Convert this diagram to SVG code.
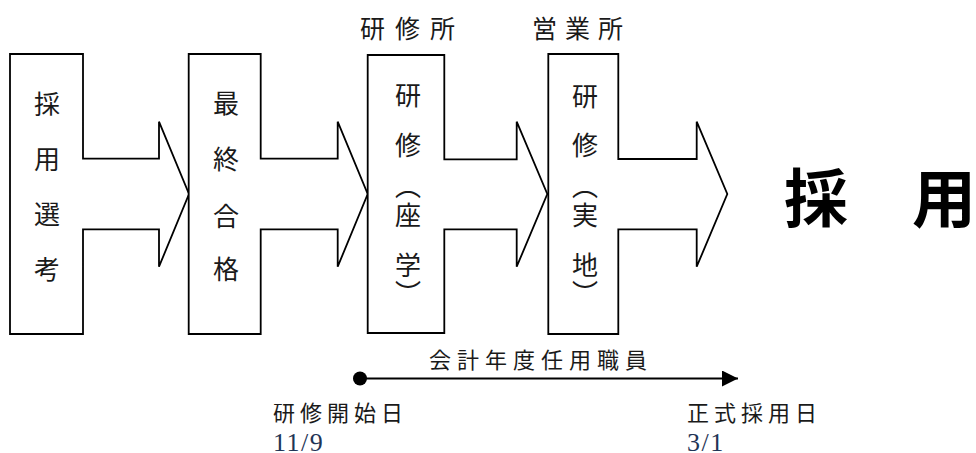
<svg xmlns="http://www.w3.org/2000/svg" width="976" height="453" viewBox="0 0 976 453">
<style>
.shape{fill:#fff;stroke:#000;stroke-width:1.8;stroke-linejoin:miter}
.v{font-family:"Noto Sans CJK JP","Noto Sans CJK SC",sans-serif;font-size:26px;fill:#1a1a1a;text-anchor:middle;dominant-baseline:central}
.lbl{font-family:"Noto Sans CJK JP","Noto Sans CJK SC",sans-serif;font-size:22px;fill:#1a1a1a;dominant-baseline:central}
.hdr{font-family:"Noto Sans CJK JP","Noto Sans CJK SC",sans-serif;font-size:25px;fill:#1a1a1a;dominant-baseline:central}
.num{font-family:"Liberation Serif",serif;font-size:26px;fill:#1f3556;letter-spacing:1.5px}
.big{font-family:"Noto Sans CJK JP","Noto Sans CJK SC",sans-serif;font-size:64px;font-weight:700;fill:#000;text-anchor:middle;dominant-baseline:central}
</style>
<defs>
<marker id="ah" viewBox="0 0 16 16" refX="16" refY="8" markerWidth="16" markerHeight="16" markerUnits="userSpaceOnUse" orient="auto">
<path d="M0,0 L16,8 L0,16 Z" fill="#000"/>
</marker>
</defs>
<g id="node-saiyo-senko">
<path class="shape" d="M10,54 H83 V158.7 H159 V121.7 L189,194 L159,266.7 V229.3 H83 V334 H10 Z"/>
<text class="v" x="47" y="102">採</text>
<text class="v" x="47" y="157">用</text>
<text class="v" x="47" y="212">選</text>
<text class="v" x="47" y="267">考</text>
</g>
<g id="node-saishu-gokaku">
<path class="shape" d="M188.7,54 H260.7 V158.7 H337.7 V121.7 L367.7,194 L337.7,266.7 V229.3 H260.7 V334 H188.7 Z"/>
<text class="v" x="226" y="101">最</text>
<text class="v" x="226" y="157">終</text>
<text class="v" x="226" y="214">合</text>
<text class="v" x="226" y="267">格</text>
</g>
<g id="node-kenshu-zagaku">
<text class="hdr" x="360" y="27" letter-spacing="10">研修所</text>
<path class="shape" d="M367.7,55 H444.3 V159.3 H516.7 V121.7 L547.3,194 L516.7,266.7 V229.3 H444.3 V333 H367.7 Z"/>
<text class="v" x="408" y="93">研</text>
<text class="v" x="408" y="143">修</text>
<text class="v" x="408" y="184">︵</text>
<text class="v" x="408" y="213">座</text>
<text class="v" x="408" y="263">学</text>
<text class="v" x="408" y="291">︶</text>
</g>
<g id="node-kenshu-jitchi">
<text class="hdr" x="532" y="27" letter-spacing="8">営業所</text>
<path class="shape" d="M548.3,54 H618.3 V159 H696.7 V121.7 L727.3,194 L696.7,266.7 V229.3 H618.3 V334 H548.3 Z"/>
<text class="v" x="585" y="94">研</text>
<text class="v" x="585" y="143">修</text>
<text class="v" x="585" y="184">︵</text>
<text class="v" x="585" y="213">実</text>
<text class="v" x="585" y="263">地</text>
<text class="v" x="585" y="291">︶</text>
</g>
<g id="node-saiyo">
<text class="big" x="816" y="194">採</text>
<text class="big" x="944" y="194">用</text>
</g>
<g id="connectors">
<line x1="360" y1="378.5" x2="738" y2="378.5" stroke="#000" stroke-width="2" marker-end="url(#ah)"/>
<circle cx="360" cy="378.5" r="7" fill="#000"/>
</g>
<g id="timeline-labels">
<text class="lbl" x="429" y="358" letter-spacing="6">会計年度任用職員</text>
<text class="lbl" x="273" y="411" letter-spacing="5">研修開始日</text>
<text class="num" x="273" y="451">11/9</text>
<text class="lbl" x="687" y="411" letter-spacing="5">正式採用日</text>
<text class="num" x="687" y="451">3/1</text>
</g>
</svg>
